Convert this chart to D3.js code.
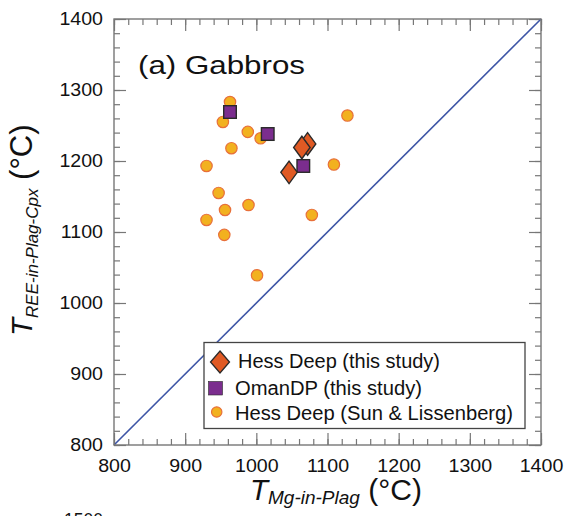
<!DOCTYPE html>
<html><head><meta charset="utf-8">
<script src="https://cdn.jsdelivr.net/npm/d3@7"></script>
<style>body{margin:0;background:#fff}svg{display:block}text{font-family:Arial,"Liberation Sans",sans-serif}</style>
</head><body>
<svg id="c" width="568" height="516"></svg>
<script>
const xTicks = [800, 900, 1000, 1100, 1200, 1300, 1400];
const yTicks = [800, 900, 1000, 1100, 1200, 1300, 1400];
// Hess Deep (this study) - diamonds
const hdX = [1072, 1064, 1046];
const hdY = [1224, 1219, 1184];
// OmanDP (this study) - squares
const omX = [963, 1016, 1066];
const omY = [1269, 1238, 1193];
// Hess Deep (Sun & Lissenberg) - circles
const slX = [963, 953, 988, 1006, 965, 930, 1128, 1109, 947, 956, 989, 930, 955, 1078, 1001];
const slY = [1283, 1255, 1241, 1232, 1218, 1193, 1264, 1195, 1155, 1131, 1138, 1117, 1096, 1124, 1039];
const legendLabels = ["Hess Deep (this study)", "OmanDP (this study)", "Hess Deep (Sun & Lissenberg)"];
const oneToOne = [800, 1400];

const svg = d3.select("#c");
const L = 114, R = 541, T = 19, B = 445;
const x = d3.scaleLinear().domain([800, 1400]).range([L, R]);
const y = d3.scaleLinear().domain([800, 1400]).range([B, T]);
const axCol = "#777";

function stretch(sel, k) {
  sel.each(function () {
    const w = this.getComputedTextLength();
    d3.select(this).attr("textLength", w * k).attr("lengthAdjust", "spacingAndGlyphs");
  });
}

const minor = d3.range(800, 1401, 20);
function axisG(axis, tr) {
  const g = svg.append("g").attr("transform", tr).call(axis);
  g.select(".domain").remove();
  g.selectAll("line").attr("stroke", axCol).attr("stroke-width", 1.2);
  return g;
}
axisG(d3.axisBottom(x).tickValues(minor).tickSize(-6).tickFormat(""), `translate(0,${B})`);
axisG(d3.axisTop(x).tickValues(minor).tickSize(-6).tickFormat(""), `translate(0,${T})`);
axisG(d3.axisLeft(y).tickValues(minor).tickSize(-6).tickFormat(""), `translate(${L},0)`);
axisG(d3.axisRight(y).tickValues(minor).tickSize(-6).tickFormat(""), `translate(${R},0)`);
const bx = axisG(d3.axisBottom(x).tickValues(xTicks).tickSize(-12).tickPadding(14.5).tickFormat(d3.format("d")), `translate(0,${B})`);
bx.selectAll("text").attr("fill", "#111").attr("font-size", 17.5);
stretch(bx.selectAll("text"), 1.12);
axisG(d3.axisTop(x).tickValues(xTicks).tickSize(-12).tickFormat(""), `translate(0,${T})`);
const ly = axisG(d3.axisLeft(y).tickValues(yTicks).tickSize(-12).tickPadding(11).tickFormat(d3.format("d")), `translate(${L},0)`);
ly.selectAll("text").attr("fill", "#111").attr("font-size", 17.5);
stretch(ly.selectAll("text"), 1.12);
axisG(d3.axisRight(y).tickValues(yTicks).tickSize(-12).tickFormat(""), `translate(${R},0)`);

// 1:1 line
svg.append("line").attr("x1", x(oneToOne[0])).attr("y1", y(oneToOne[0]))
  .attr("x2", x(oneToOne[1])).attr("y2", y(oneToOne[1]))
  .attr("stroke", "#3D55A6").attr("stroke-width", 1.6);

// frame
svg.append("rect").attr("x", L).attr("y", T).attr("width", R - L).attr("height", B - T)
  .attr("fill", "none").attr("stroke", axCol).attr("stroke-width", 1.4);

// title
svg.append("text").attr("x", 138).attr("y", 73.5).attr("font-size", 25.5).attr("fill", "#111")
  .attr("textLength", 167).attr("lengthAdjust", "spacingAndGlyphs").text("(a) Gabbros");

// markers
const circFill = "#F2B11F", circStroke = "#E8703A";
const sqFill = "#7B2D8E", diaFill = "#E05A24", darkStroke = "#2a2a2a";
function diamondPath(cx, cy, w, h) {
  return `M${cx},${cy - h / 2}L${cx + w / 2},${cy}L${cx},${cy + h / 2}L${cx - w / 2},${cy}Z`;
}
svg.append("g").selectAll("circle").data(slX.map((d, i) => [d, slY[i]])).join("circle")
  .attr("cx", d => x(d[0])).attr("cy", d => y(d[1])).attr("r", 5.7)
  .attr("fill", circFill).attr("stroke", circStroke).attr("stroke-width", 1.2);
svg.append("g").selectAll("rect").data(omX.map((d, i) => [d, omY[i]])).join("rect")
  .attr("x", d => x(d[0]) - 6.3).attr("y", d => y(d[1]) - 6.3).attr("width", 12.6).attr("height", 12.6)
  .attr("fill", sqFill).attr("stroke", darkStroke).attr("stroke-width", 1.4);
svg.append("g").selectAll("path").data(hdX.map((d, i) => [d, hdY[i]])).join("path")
  .attr("d", d => diamondPath(x(d[0]), y(d[1]), 16.5, 22.5))
  .attr("fill", diaFill).attr("stroke", darkStroke).attr("stroke-width", 1.4);

// legend
const lg = svg.append("g");
lg.append("rect").attr("x", 204).attr("y", 342.5).attr("width", 321).attr("height", 86)
  .attr("fill", "#fff").attr("stroke", "#444").attr("stroke-width", 1.3);
lg.append("path").attr("d", diamondPath(220, 362, 19, 22)).attr("fill", diaFill).attr("stroke", darkStroke).attr("stroke-width", 1.3);
lg.append("rect").attr("x", 208.5).attr("y", 381.5).attr("width", 14).attr("height", 13.5).attr("fill", sqFill).attr("stroke", darkStroke).attr("stroke-width", 0.6);
lg.append("circle").attr("cx", 216.7).attr("cy", 412).attr("r", 5.2).attr("fill", circFill).attr("stroke", circStroke).attr("stroke-width", 1.2);
const textX = [238, 235, 235];
const textY = [368, 395, 420];
const textW = [202, 187, 278];
legendLabels.forEach((t, i) => {
  lg.append("text").attr("x", textX[i]).attr("y", textY[i])
    .attr("font-size", 20).attr("fill", "#111")
    .attr("textLength", textW[i]).attr("lengthAdjust", "spacingAndGlyphs").text(t);
});

// x axis title
const xt = svg.append("text").attr("x", 250).attr("y", 500).attr("fill", "#111");
xt.append("tspan").attr("font-size", 29.5).attr("font-style", "italic").text("T");
xt.append("tspan").attr("font-size", 19).attr("font-style", "italic").attr("dy", 4).text("Mg-in-Plag");
xt.append("tspan").attr("font-size", 30).attr("dy", -4).text(" (°C)");

// y axis title
const yt = svg.append("text").attr("transform", "translate(32,336) rotate(-90)").attr("fill", "#111");
yt.append("tspan").attr("font-size", 29.5).attr("font-style", "italic").text("T");
yt.append("tspan").attr("font-size", 17).attr("font-style", "italic").attr("dy", 6).text("REE-in-Plag-Cpx");
yt.append("tspan").attr("font-size", 31).attr("dy", -6).text(" (°C)");

// clipped label of next panel at bottom edge
svg.append("text").attr("x", 103).attr("y", 526).attr("text-anchor", "end").attr("font-size", 17.5).attr("fill", "#111").text("1500");
</script>
</body></html>
